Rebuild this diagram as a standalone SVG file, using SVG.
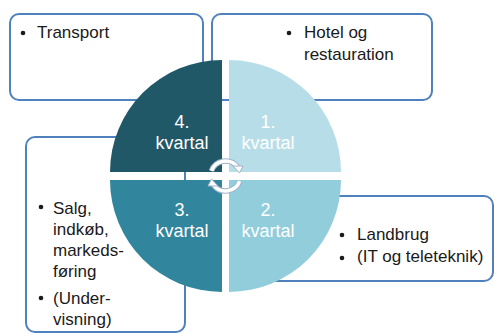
<svg xmlns="http://www.w3.org/2000/svg" width="494" height="334" viewBox="0 0 494 334">
<style>
.box{fill:#fff;stroke:#4f81bd;stroke-width:2}
.t{font-family:"Liberation Sans",Arial,sans-serif;font-size:17px;fill:#1a1a1a}
.q{font-family:"Liberation Sans",Arial,sans-serif;font-size:18px;fill:#fff;text-anchor:middle}
.b{fill:#1a1a1a}
.arcO{fill:none;stroke:#9fb3c8;stroke-width:5.5}
.arcI{fill:none;stroke:#fff;stroke-width:3.5}
</style>
<rect width="494" height="334" fill="#fff"/>
<g id="box-transport">
<rect class="box" x="10" y="14" width="193" height="86" rx="9"/>
<circle class="b" cx="23" cy="33" r="2.3"/>
<text class="t" x="37" y="38">Transport</text>
</g>
<g id="box-hotel">
<rect class="box" x="212" y="14" width="220" height="86" rx="9"/>
<circle class="b" cx="289" cy="33" r="2.3"/>
<text class="t" x="304" y="38">Hotel og</text>
<text class="t" x="304" y="60">restauration</text>
</g>
<g id="box-salg">
<rect class="box" x="26" y="137" width="159" height="195" rx="9"/>
<circle class="b" cx="41" cy="207" r="2.3"/>
<text class="t" x="53" y="214">Salg,</text>
<text class="t" x="53" y="235">indkøb,</text>
<text class="t" x="53" y="256">markeds-</text>
<text class="t" x="53" y="277">føring</text>
<circle class="b" cx="41" cy="298" r="2.3"/>
<text class="t" x="53" y="304">(Under-</text>
<text class="t" x="53" y="325">visning)</text>
</g>
<g id="box-landbrug">
<rect class="box" x="262" y="196" width="231" height="85" rx="9"/>
</g>
<g id="q4">
<path d="M222,172 L110,172 A112,112 0 0 1 222,60 Z" fill="#215868"/>
<text class="q" x="182" y="128">4.</text>
<text class="q" x="182" y="149">kvartal</text>
</g>
<g id="q1">
<path d="M229,172 L229,60 A112,112 0 0 1 341,172 Z" fill="#b7dee8"/>
<text class="q" x="268" y="128">1.</text>
<text class="q" x="268" y="149">kvartal</text>
</g>
<g id="q2">
<path d="M229,180 L341,180 A112,112 0 0 1 229,292 Z" fill="#92cddc"/>
<text class="q" x="268" y="216">2.</text>
<text class="q" x="268" y="237">kvartal</text>
</g>
<g id="q3">
<path d="M222,180 L222,292 A112,112 0 0 1 110,180 Z" fill="#31859c"/>
<text class="q" x="182" y="216">3.</text>
<text class="q" x="182" y="237">kvartal</text>
</g>
<g id="landbrug-text">
<circle class="b" cx="342" cy="235" r="2.3"/>
<text class="t" x="357" y="240">Landbrug</text>
<circle class="b" cx="342" cy="258" r="2.3"/>
<text class="t" x="357" y="262">(IT og teleteknik)</text>
</g>
<g id="connectors">
<path class="arcO" d="M211.4,170.9 A15,15 0 0 1 237.5,167"/>
<path class="arcO" d="M239.6,181.1 A15,15 0 0 1 213.5,185"/>
<path class="arcI" d="M211.4,170.9 A15,15 0 0 1 237.5,167"/>
<path class="arcI" d="M239.6,181.1 A15,15 0 0 1 213.5,185"/>
<path d="M233,166 L243,166 L239.5,173 Z" fill="#fff" stroke="#9fb3c8" stroke-width="1"/>
<path d="M218,186 L208,186 L211.5,179 Z" fill="#fff" stroke="#9fb3c8" stroke-width="1"/>
</g>
</svg>
